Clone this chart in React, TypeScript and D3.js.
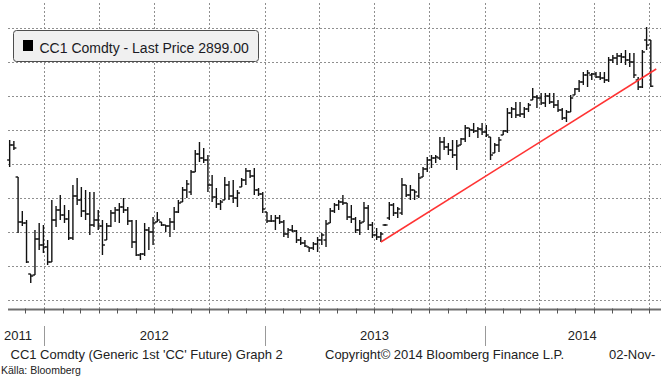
import React from 'react';
import * as d3 from 'd3';

const W = 661;
const H = 382;

const legendLabel = 'CC1 Comdty - Last Price 2899.00';
const footerLeft = "CC1 Comdty (Generic 1st 'CC' Future) Graph 2";
const footerMid = 'Copyright\u00A9 2014 Bloomberg Finance L.P.';
const footerRight = '02-Nov-';
const sourceText = 'K\u00E4lla: Bloomberg';

// weekly bars, first bar week of 5 Nov 2011
const startDate = new Date(2011, 10, 5);

const highs = [
  2630, 2625, 2445, 2275, 2230, 1960, 2180, 2215, 2205, 2130,
  2330, 2300, 2355, 2305, 2280, 2405, 2440, 2395, 2380, 2370,
  2370, 2280, 2230, 2215, 2280, 2295, 2315, 2340, 2295, 2230,
  2230, 2065, 2215, 2195, 2245, 2270, 2220, 2205, 2240, 2295,
  2330, 2395, 2430, 2480, 2580, 2620, 2590, 2555, 2455, 2390,
  2330, 2445, 2425, 2430, 2380, 2440, 2490, 2480, 2490, 2390,
  2370, 2270, 2255, 2255, 2255, 2230, 2190, 2205, 2180, 2145,
  2130, 2095, 2120, 2145, 2165, 2230, 2290, 2315, 2330, 2355,
  2315, 2305, 2245, 2230, 2320, 2305, 2220, 2190, 2170, 2210,
  2320, 2315, 2295, 2440, 2405, 2405, 2380, 2465, 2495, 2545,
  2555, 2555, 2645, 2645, 2615, 2630, 2630, 2640, 2705, 2690,
  2715, 2695, 2715, 2705, 2645, 2615, 2645, 2680, 2790, 2795,
  2820, 2820, 2795, 2815, 2890, 2855, 2865, 2865, 2865, 2865,
  2830, 2790, 2780, 2855, 2890, 2930, 2970, 2980, 2965, 2970,
  2970, 2970, 3045, 3055, 3065, 3065, 3080, 3065, 3065, 2945,
  3080, 3195, 3130,
];

const lows = [
  2495, 2580, 2165, 2200, 2015, 1915, 1955, 2080, 2065, 2005,
  2020, 2195, 2230, 2215, 2130, 2130, 2305, 2245, 2230, 2155,
  2195, 2180, 2055, 2130, 2195, 2220, 2215, 2265, 2205, 2090,
  2050, 2030, 2050, 2080, 2105, 2220, 2200, 2170, 2145, 2180,
  2265, 2320, 2340, 2355, 2470, 2520, 2515, 2370, 2320, 2290,
  2280, 2330, 2330, 2315, 2295, 2395, 2405, 2440, 2355, 2350,
  2265, 2215, 2220, 2180, 2210, 2145, 2140, 2170, 2115, 2105,
  2095, 2070, 2080, 2070, 2105, 2095, 2215, 2265, 2280, 2305,
  2230, 2215, 2165, 2155, 2220, 2180, 2140, 2130, 2120, 2200,
  2230, 2250, 2240, 2255, 2345, 2330, 2330, 2340, 2445, 2470,
  2490, 2515, 2530, 2580, 2555, 2540, 2480, 2605, 2620, 2645,
  2665, 2640, 2655, 2645, 2530, 2565, 2570, 2655, 2665, 2740,
  2740, 2745, 2740, 2770, 2830, 2790, 2805, 2795, 2810, 2790,
  2770, 2730, 2720, 2770, 2855, 2870, 2905, 2895, 2930, 2940,
  2930, 2915, 2920, 3015, 3005, 3015, 3005, 2995, 2940, 2880,
  2890, 3080, 2895,
];

const opens = [
  2530, 2605, 2445, 2220, 2215, 1960, 1955, 2135, 2105, 2095,
  2020, 2230, 2280, 2255, 2235, 2140, 2350, 2330, 2275, 2260,
  2205, 2230, 2200, 2130, 2200, 2265, 2280, 2295, 2280, 2225,
  2120, 2055, 2060, 2180, 2170, 2220, 2220, 2205, 2200, 2220,
  2270, 2320, 2380, 2370, 2470, 2560, 2540, 2530, 2405, 2345,
  2310, 2330, 2405, 2350, 2340, 2395, 2430, 2475, 2450, 2380,
  2360, 2270, 2225, 2225, 2240, 2220, 2160, 2180, 2175, 2130,
  2115, 2095, 2090, 2110, 2130, 2130, 2215, 2275, 2305, 2320,
  2315, 2245, 2235, 2180, 2220, 2290, 2205, 2155, 2145, 2205,
  2240, 2305, 2265, 2265, 2405, 2355, 2380, 2350, 2445, 2485,
  2530, 2540, 2540, 2620, 2595, 2580, 2555, 2605, 2635, 2690,
  2680, 2675, 2685, 2670, 2645, 2565, 2605, 2655, 2675, 2765,
  2785, 2755, 2760, 2785, 2830, 2845, 2840, 2815, 2850, 2820,
  2805, 2780, 2740, 2770, 2855, 2885, 2920, 2955, 2955, 2960,
  2945, 2940, 2930, 3030, 3040, 3050, 3045, 3030, 3020, 2930,
  2895, 3130, 3130,
];

const closes = [
  2605, 2590, 2220, 2215, 2020, 1950, 2135, 2105, 2095, 2020,
  2230, 2280, 2255, 2235, 2140, 2350, 2330, 2275, 2260, 2205,
  2230, 2200, 2105, 2200, 2265, 2280, 2295, 2280, 2225, 2120,
  2055, 2060, 2180, 2170, 2215, 2230, 2205, 2200, 2220, 2270,
  2315, 2380, 2410, 2470, 2560, 2540, 2530, 2405, 2345, 2310,
  2320, 2405, 2350, 2340, 2365, 2430, 2475, 2450, 2380, 2360,
  2285, 2225, 2225, 2240, 2220, 2160, 2180, 2175, 2130, 2115,
  2100, 2090, 2110, 2130, 2155, 2210, 2275, 2305, 2320, 2315,
  2245, 2235, 2180, 2215, 2290, 2205, 2155, 2145, 2160, 2205,
  2305, 2265, 2285, 2405, 2355, 2380, 2370, 2440, 2485, 2530,
  2540, 2545, 2620, 2595, 2580, 2555, 2600, 2635, 2690, 2680,
  2675, 2685, 2670, 2655, 2555, 2605, 2630, 2675, 2765, 2785,
  2755, 2760, 2785, 2805, 2845, 2840, 2815, 2850, 2820, 2805,
  2780, 2740, 2770, 2840, 2885, 2920, 2955, 2965, 2960, 2945,
  2940, 2930, 3030, 3040, 3050, 3045, 3030, 3020, 2955, 2895,
  3070, 3105, 2899,
];

// red trend line
const trendDates = [new Date(2013, 6, 13), new Date(2014, 9, 13)];
const trendValues = [2120, 2985];

// hidden (cropped) price axis gridline values
const gridValues = [1830, 2000, 2170, 2340, 2510, 2680, 2850, 3020, 3190];
const yearLabels = ['2011', '2012', '2013', '2014'];

const FONT = 'Liberation Sans, Arial, sans-serif';

export default function App() {
  const x = d3
    .scaleTime()
    .domain([new Date(2012, 0, 1), new Date(2014, 0, 1)])
    .range([44, 484.5]);
  const y = d3.scaleLinear().domain([1830, 3190]).range([300, 28]);

  const plotLeft = 8;
  const plotRight = W;
  const axisY = 309.5;

  const dates = highs.map((_, i) => d3.timeDay.offset(startDate, 7 * i));

  const quarters = d3.timeMonth
    .every(3)!
    .range(new Date(2011, 9, 1), new Date(2015, 0, 1))
    .filter((d) => x(d) >= plotLeft && x(d) <= plotRight);
  const months = d3.timeMonth
    .range(new Date(2011, 10, 1), new Date(2015, 0, 1))
    .filter((d) => x(d) >= plotLeft && x(d) <= plotRight);
  const yearStarts = [2012, 2013, 2014].map((yr) => new Date(yr, 0, 1));

  const labelExtent: [number, number] = [-8, 680];
  const yearBounds = [labelExtent[0], ...yearStarts.map((d) => x(d)), labelExtent[1]];

  const trendLine = d3
    .line<number>()
    .x((_, i) => x(trendDates[i]))
    .y((v) => y(v));

  return (
    <svg
      width={W}
      height={H}
      style={{ position: 'absolute', left: 0, top: 0, display: 'block', background: '#fff' }}
      fontFamily={FONT}
    >
      <rect x={0} y={0} width={W} height={H} fill="#ffffff" />
      {/* horizontal gridlines */}
      {gridValues.map((v) => (
        <line
          key={'h' + v}
          x1={plotLeft}
          x2={plotRight}
          y1={Math.round(y(v)) + 0.5}
          y2={Math.round(y(v)) + 0.5}
          stroke="#8f8f8f"
          strokeWidth={1}
          strokeDasharray="2,2"
        />
      ))}
      {/* vertical gridlines */}
      {quarters.map((d) => (
        <line
          key={'v' + d.getTime()}
          x1={Math.round(x(d)) + 0.5}
          x2={Math.round(x(d)) + 0.5}
          y1={3}
          y2={axisY - 1}
          stroke="#8f8f8f"
          strokeWidth={1}
          strokeDasharray="2,2"
        />
      ))}

      {/* OHLC bars */}
      <g stroke="#111" strokeWidth={1.4} fill="none">
        {dates.map((d, i) => {
          const cx = x(d);
          return (
            <g key={i}>
              <line x1={cx} x2={cx} y1={y(highs[i])} y2={y(lows[i])} />
              <line x1={cx - 2.5} x2={cx} y1={y(opens[i])} y2={y(opens[i])} />
              <line x1={cx} x2={cx + 2.5} y1={y(closes[i])} y2={y(closes[i])} />
            </g>
          );
        })}
      </g>

      {/* trend line */}
      <path d={trendLine(trendValues) || ''} stroke="#ff3333" strokeWidth={1.5} fill="none" />

      {/* legend */}
      <rect x={13.5} y={30.5} width={245} height={31} rx={3} ry={3} fill="#f0f0f0" stroke="#4d4d4d" strokeWidth={1} />
      <rect x={23} y={40} width={10} height={11} fill="#000" />
      <text x={39.5} y={53} fontSize={14} fill="#1a1a24">
        {legendLabel}
      </text>

      {/* x axis */}
      <line x1={plotLeft} x2={plotRight} y1={axisY} y2={axisY} stroke="#6f6f6f" strokeWidth={2.2} />
      {months.map((d) => (
        <line
          key={'t' + d.getTime()}
          x1={Math.round(x(d)) + 0.5}
          x2={Math.round(x(d)) + 0.5}
          y1={axisY - 1}
          y2={axisY + 4}
          stroke="#555"
          strokeWidth={1}
        />
      ))}
      {yearStarts.map((d) => (
        <line
          key={'ys' + d.getTime()}
          x1={Math.round(x(d)) + 0.5}
          x2={Math.round(x(d)) + 0.5}
          y1={326}
          y2={346}
          stroke="#999"
          strokeWidth={1}
        />
      ))}
      {yearLabels.map((lab, i) => (
        <text
          key={lab}
          x={(yearBounds[i] + yearBounds[i + 1]) / 2}
          y={340}
          fontSize={13}
          textAnchor="middle"
          fill="#222"
        >
          {lab}
        </text>
      ))}

      {/* footer */}
      <text x={10.5} y={359} fontSize={13} fill="#222">
        {footerLeft}
      </text>
      <text x={325} y={359} fontSize={13} fill="#222">
        {footerMid}
      </text>
      <text x={609} y={359} fontSize={13} fill="#222">
        {footerRight}
      </text>
      <text x={1} y={374} fontSize={10.5} fill="#222">
        {sourceText}
      </text>
    </svg>
  );
}
